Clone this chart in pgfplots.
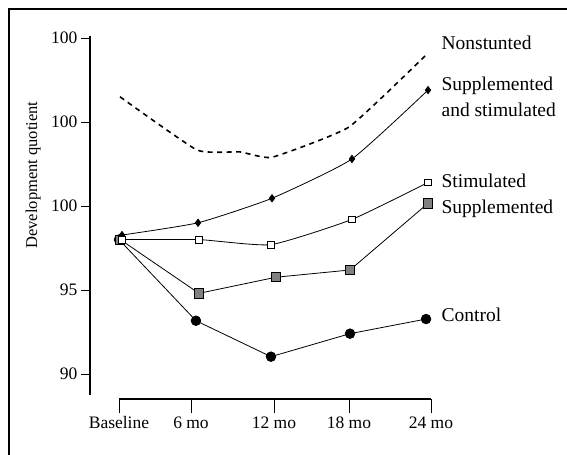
\documentclass[border=0pt]{standalone}
\usepackage{pgfplots}
\pgfplotsset{compat=1.18}
\usepackage{fontspec}
\setmainfont{Liberation Serif}

\begin{document}
\begin{tikzpicture}
\useasboundingbox (-90bp,-56bp) rectangle (477bp,399bp);
\begin{axis}[
  at={(0,0)}, anchor=south west,
  scale only axis, width=341bp, height=363bp,
  xmin=-2.23, xmax=24, ymin=88.51, ymax=110.12,
  clip=false,
  axis lines*=left,
  axis line style={draw=none},
  tick align=outside,
  major tick length=9bp,
  tick style={black, line width=0.8bp},
  xtick={0,5.54,11.92,17.69,24},
  xticklabels={Baseline,6 mo,12 mo,18 mo,24 mo},
  ytick={90,95,100,105,110},
  yticklabels={90,95,100,100,100},
  x tick style={/pgfplots/major tick length=14bp},
  xticklabel style={yshift=-5bp},
  ticklabel style={font=\fontsize{17.5bp}{21bp}\selectfont},
  /pgf/number format/assume math mode=true,
  ylabel={Development quotient},
  ylabel style={at={(axis description cs:-0.167,0.617)}, anchor=center,
    font=\fontsize{16.5bp}{20bp}\selectfont},
]
% axis lines (open, separated)
\draw[black, line width=1.2bp] (axis cs:-2.23,110.12) -- (axis cs:-2.23,88.75);
\draw[black, line width=1.2bp] (axis cs:0,88.51) -- (axis cs:24,88.51);

% Nonstunted
\addplot[black, line width=1.6bp, smooth, tension=0.25, dash pattern=on 5bp off 4.5bp]
  coordinates {(0.08,106.5) (6.0,103.33) (9.3,103.22) (11.77,102.9) (17.69,104.7) (23.77,109.1)};
% Control
\addplot[black, line width=0.8bp, mark=*, mark size=4.8bp]
  coordinates {(0,98.0) (5.92,93.17) (11.69,91.03) (17.77,92.4) (23.62,93.27)};
% Supplemented
\addplot[black, line width=0.8bp, mark=square*, mark size=4.6bp,
  mark options={draw=none, fill=black!50}]
  coordinates {(0.1,98.0) (6.15,94.8) (12.08,95.76) (17.77,96.19) (23.77,100.16)};
% Supplemented and stimulated
\addplot[black, line width=0.8bp, smooth, tension=0.3, mark=diamond*, mark size=3.6bp]
  coordinates {(0.23,98.27) (6.08,99.0) (11.77,100.46) (17.92,102.8) (23.77,106.9)};
% Stimulated
\addplot[black, line width=0.8bp, smooth, tension=0.3, mark=square*, mark size=3.3bp,
  mark options={fill=white, line width=0.7bp}]
  coordinates {(0.23,98.0) (6.15,98.0) (11.69,97.7) (17.92,99.2) (23.77,101.4)};

\begin{scope}[every node/.style={anchor=base west, inner sep=0pt,
    font=\fontsize{19.5bp}{27bp}\selectfont}]
\node at (axis cs:24.8,109.29) {Nonstunted};
\node at (axis cs:24.8,106.9) {Supplemented};
\node at (axis cs:24.8,105.3) {and stimulated};
\node at (axis cs:24.8,101.13) {Stimulated};
\node at (axis cs:24.8,99.58) {Supplemented};
\node at (axis cs:24.8,93.1) {Control};
\end{scope}
\end{axis}
% outer frame (top and left edges)
\draw[black, line width=1.6bp] (-81bp,-56bp) -- (-81bp,390bp) -- (477bp,390bp);
\end{tikzpicture}
\end{document}
